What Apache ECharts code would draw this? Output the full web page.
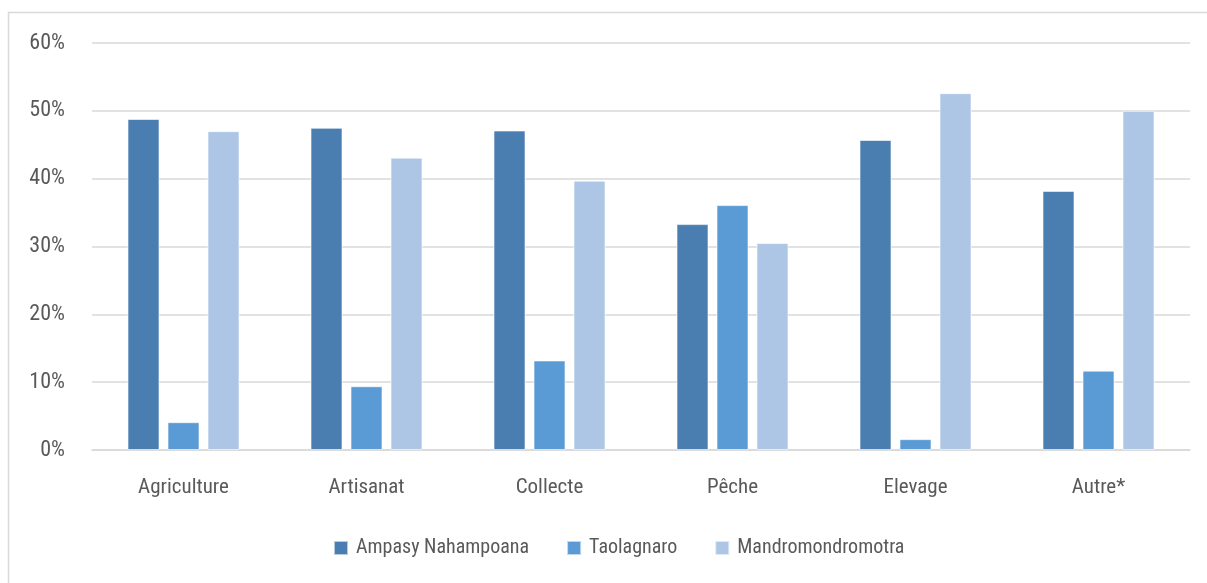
<!DOCTYPE html>
<html>
<head>
<meta charset="utf-8">
<script src="https://cdn.jsdelivr.net/npm/echarts@6/dist/echarts.min.js"></script>
<style>
  html, body { margin: 0; padding: 0; background: #ffffff; }
  #chart { width: 1207px; height: 583px; }
</style>
</head>
<body>
<div id="chart"></div>
<script>
// Activity categories and the share (%) reported in each locality
const categories = ['Agriculture', 'Artisanat', 'Collecte', 'Pêche', 'Elevage', 'Autre*'];
const ampasy = [48.8, 47.5, 47.1, 33.3, 45.7, 38.2];
const taolagnaro = [4.1, 9.4, 13.2, 36.1, 1.6, 11.7];
const mandromondromotra = [47.0, 43.1, 39.7, 30.5, 52.6, 50.0];
const seriesNames = ['Ampasy Nahampoana', 'Taolagnaro', 'Mandromondromotra'];
const yTicks = [0, 10, 20, 30, 40, 50, 60];

const FONT = '"Roboto Condensed", "Open Sans Condensed", "Noto Sans Condensed", "Liberation Sans Narrow", "DejaVu Sans Condensed", sans-serif';
const TEXT = '#595959';
const colors = ['#4A7EB0', '#5B9BD5', '#ADC6E5'];

const chart = echarts.init(document.getElementById('chart'), null, { renderer: 'canvas' });

const makeSeries = (name, data, color) => ({
  name: name,
  type: 'bar',
  data: data,
  barWidth: 32,
  barGap: '25%',
  itemStyle: { color: color, borderColor: 'rgba(255,255,255,0.6)', borderWidth: 1 },
  emphasis: { disabled: true }
});

chart.setOption({
  animation: false,
  backgroundColor: '#ffffff',
  textStyle: { fontFamily: FONT },
  graphic: [{
    type: 'rect',
    shape: { x: 8.5, y: 12.5, width: 1300, height: 700 },
    style: { fill: 'none', stroke: '#D9D9D9', lineWidth: 1.5 },
    silent: true,
    z: -1
  }],
  grid: { left: 92, right: 17, top: 43, bottom: 133, containLabel: false },
  legend: {
    data: seriesNames,
    left: 333,
    top: 538,
    padding: 0,
    itemWidth: 14,
    itemHeight: 14,
    itemGap: 37,
    icon: 'rect',
    textStyle: { fontFamily: FONT, fontSize: 20, color: TEXT, padding: [0, 0, 0, 3] }
  },
  xAxis: {
    type: 'category',
    data: categories,
    axisLine: { show: true, lineStyle: { color: '#D9D9D9', width: 1.5 } },
    axisTick: { show: false },
    axisLabel: { fontFamily: FONT, fontSize: 21, color: TEXT, margin: 27 }
  },
  yAxis: {
    type: 'value',
    min: yTicks[0],
    max: yTicks[yTicks.length - 1],
    interval: 10,
    axisLine: { show: false },
    axisTick: { show: false },
    axisLabel: { fontFamily: FONT, fontSize: 22, color: TEXT, margin: 27, formatter: '{value}%' },
    splitLine: { lineStyle: { color: '#D9D9D9', width: 1.5 } }
  },
  series: [
    makeSeries(seriesNames[0], ampasy, colors[0]),
    makeSeries(seriesNames[1], taolagnaro, colors[1]),
    makeSeries(seriesNames[2], mandromondromotra, colors[2])
  ]
});
</script>
</body>
</html>
